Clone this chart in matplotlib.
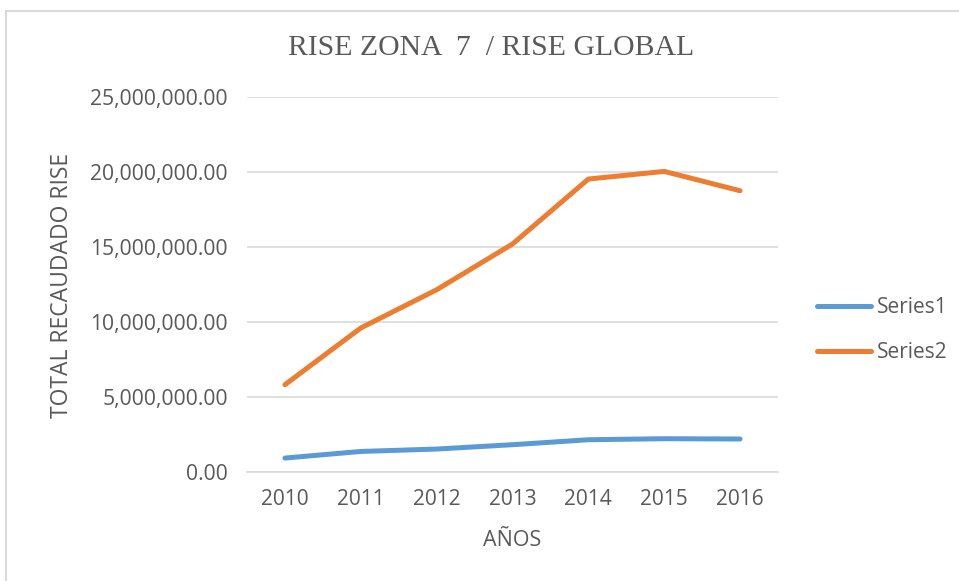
import matplotlib
matplotlib.use("Agg")
import matplotlib.pyplot as plt
from matplotlib.patches import Rectangle
from matplotlib.ticker import FuncFormatter

years = ["2010", "2011", "2012", "2013", "2014", "2015", "2016"]
series1 = [930000, 1370000, 1530000, 1820000, 2150000, 2220000, 2200000]
series2 = [5820000, 9600000, 12150000, 15200000, 19530000, 20040000, 18750000]
series_names = ["Series1", "Series2"]
title = "RISE ZONA  7  / RISE GLOBAL"
ylabel = "TOTAL RECAUDADO RISE"
xlabel = "AÑOS"

W, H = 959, 581
fig = plt.figure(figsize=(W / 100, H / 100), dpi=100)
fig.patch.set_facecolor("white")

# outer chart border (only left/top visible in the reference crop)
fig.patches.append(Rectangle((6 / W, -0.1), 1.2, 1 - 11 / H + 0.1, transform=fig.transFigure,
                             fill=False, edgecolor="#D9D9D9", linewidth=1.5))

ax = fig.add_axes([247 / W, 1 - 472 / H, (778 - 247) / W, (472 - 97) / H])
x = list(range(len(years)))
ax.plot(x, series1, color="#5B9BD5", lw=3.6, solid_capstyle="round", solid_joinstyle="round", label=series_names[0])
ax.plot(x, series2, color="#ED7D31", lw=3.6, solid_capstyle="round", solid_joinstyle="round", label=series_names[1])

ax.set_xlim(-0.5, len(years) - 0.5)
ax.set_ylim(0, 25000000)
ax.set_yticks([0, 5000000, 10000000, 15000000, 20000000, 25000000])
ax.yaxis.set_major_formatter(FuncFormatter(lambda v, p: f"{v:,.2f}"))
ax.set_xticks(x)
ax.set_xticklabels(years)
ax.grid(axis="y", color="#D9D9D9", lw=1.2)
ax.set_axisbelow(True)
for s in ax.spines.values():
    s.set_visible(False)
ax.spines["bottom"].set_visible(True)
ax.spines["bottom"].set_color("#D9D9D9")
ax.spines["bottom"].set_linewidth(1.2)
ax.tick_params(axis="y", length=0, labelsize=15.2, labelcolor="#595959", pad=13.7)
ax.tick_params(axis="x", length=0, labelsize=15, labelcolor="#595959", pad=12)
for lab in ax.get_xticklabels() + ax.get_yticklabels():
    lab.set_fontfamily("Open Sans")

fig.text(491 / W, 1 - 48 / H, title, fontsize=21.4, color="#595959", family="Liberation Serif",
         ha="center", va="center")
fig.text(62 / W, 1 - 285 / H, ylabel, fontsize=16.5, color="#595959", family="Open Sans",
         rotation=90, ha="center", va="center")
fig.text(512 / W, 1 - 541 / H, xlabel, fontsize=15.5, color="#595959", family="Open Sans",
         ha="center", va="center")

leg = fig.legend(loc="center left", bbox_to_anchor=(798.5 / W, 1 - 330 / H), frameon=False,
                 prop={"family": "Open Sans", "size": 15}, labelcolor="#595959",
                 handlelength=2.6, handletextpad=0.25, labelspacing=1.15)

fig.savefig("out.png", dpi=100)
